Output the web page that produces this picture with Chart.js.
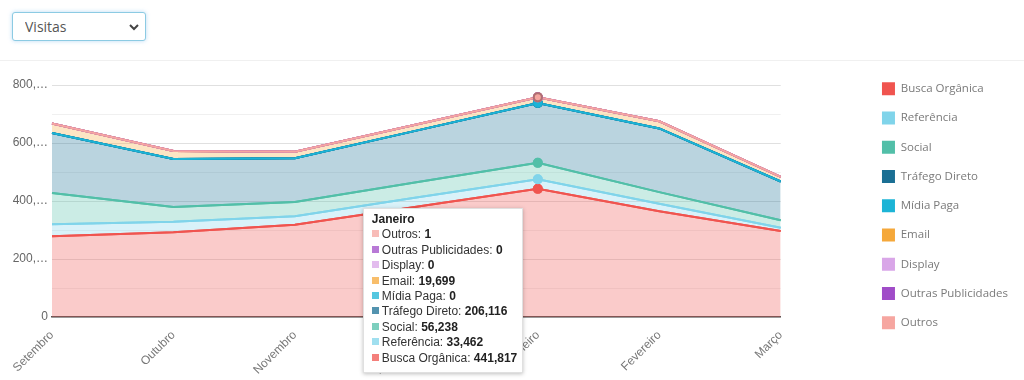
<!DOCTYPE html>
<html lang="pt-BR">
<head>
<meta charset="utf-8">
<title>Visitas por canal</title>
<script src="https://cdn.jsdelivr.net/npm/chart.js@4.4.1/dist/chart.umd.min.js"></script>
<style>
    body {
        margin: 0;
        background: #fff;
        width: 1024px;
        height: 380px;
        overflow: hidden;
        position: relative;
        font-family: 'Open Sans', sans-serif;
    }
    .filtro {
        position: absolute;
        left: 12px;
        top: 12px;
        width: 134px;
        height: 29px;
        box-sizing: border-box;
        border: 1px solid #8ccbe3;
        border-radius: 3px;
        box-shadow: 0 0 4px rgba(102, 175, 233, 0.45);
        padding: 0 0 0 12px;
        font: 14px 'Open Sans', sans-serif;
        color: #555;
        background: #fff url("data:image/svg+xml;utf8,<svg xmlns='http://www.w3.org/2000/svg' width='10' height='8'><path d='M1 2 L5 6 L9 2' stroke='%23444' stroke-width='2' fill='none'/></svg>") no-repeat right 6px center;
        -webkit-appearance: none;
        appearance: none;
    }
    .grafico {
        position: absolute;
        left: 0;
        top: 60px;
        width: 1024px;
        height: 320px;
        border-top: 1px solid #f0f0f0;
        box-sizing: border-box;
    }
    #chart-tooltip {
        position: absolute;
        background: #fff;
        border: 1px solid rgba(0, 0, 0, 0.12);
        box-shadow: 0 1px 4px rgba(0, 0, 0, 0.25);
        padding: 3px 5px 6px 8px;
        font: 12px 'Liberation Sans', Arial, sans-serif;
        color: #333;
        line-height: 15.4px;
        white-space: nowrap;
        pointer-events: none;
        opacity: 0;
    }
    #chart-tooltip .tt-title { font-weight: bold; color: #222; }
    #chart-tooltip .sw {
        display: inline-block;
        width: 7px;
        height: 7px;
        margin-right: 3px;
        vertical-align: 1px;
    }
    #chart-tooltip b { color: #222; }
</style>
</head>
<body>
<select class="filtro"><option>Visitas</option></select>
<div class="grafico">
    <canvas id="visitasChart"></canvas>
</div>
<div id="chart-tooltip"></div>

<script>
// Dados
const meses = ['Setembro', 'Outubro', 'Novembro', 'Dezembro', 'Janeiro', 'Fevereiro', 'Março'];
const buscaOrganica = [278340, 292150, 318420, 380260, 441817, 364510, 296180];
const referencia = [41200, 36480, 28910, 31540, 33462, 25870, 11240];
const social = [107650, 50320, 49180, 52610, 56238, 40150, 25930];
const trafegoDireto = [207430, 166210, 150870, 178340, 206116, 219780, 133960];
const midiaPaga = [0, 0, 0, 0, 0, 0, 0];
const email = [32860, 27140, 22350, 21080, 19699, 24630, 16120];
const display = [0, 0, 0, 0, 0, 0, 0];
const outrasPublicidades = [0, 0, 0, 0, 0, 0, 0];
const outros = [1, 2, 1, 1, 1, 1, 1];
const yTicks = [0, 200000, 400000, 600000, 800000];
const mesDestaque = 'Janeiro';

// Séries : nome, valores, cor
const series = [
    ['Busca Orgânica', buscaOrganica, '#f0544f'],
    ['Referência', referencia, '#80d4ea'],
    ['Social', social, '#52bfa8'],
    ['Tráfego Direto', trafegoDireto, '#1a6f94'],
    ['Mídia Paga', midiaPaga, '#1cb4d6'],
    ['Email', email, '#f5a83a'],
    ['Display', display, '#d9a6e8'],
    ['Outras Publicidades', outrasPublicidades, '#a04cc8'],
    ['Outros', outros, '#f6a6a0']
];

function hexToRgba(hex, a) {
    const n = parseInt(hex.slice(1), 16);
    return `rgba(${(n >> 16) & 255}, ${(n >> 8) & 255}, ${n & 255}, ${a})`;
}

const datasets = series.map(([label, data, cor], i) => ({
    label: label,
    data: data,
    borderColor: cor,
    backgroundColor: hexToRgba(cor, 0.3),
    borderWidth: 2,
    fill: i === 0 ? 'origin' : '-1',
    tension: 0,
    pointRadius: 0,
    pointHoverRadius: 4,
    pointHoverBorderWidth: 2,
    pointHoverBackgroundColor: cor,
    pointHoverBorderColor: i === series.length - 1 ? '#b07070' : hexToRgba(cor, 0.9)
}));

function formatarNumero(v) {
    return v.toLocaleString('en-US');
}

// Tooltip HTML (valores em negrito)
function tooltipExterno(context) {
    const { chart, tooltip } = context;
    const el = document.getElementById('chart-tooltip');
    if (tooltip.opacity === 0) {
        el.style.opacity = 0;
        return;
    }
    let html = `<div class="tt-title">${tooltip.title[0]}</div>`;
    tooltip.dataPoints.forEach(dp => {
        const ds = chart.data.datasets[dp.datasetIndex];
        html += `<div><span class="sw" style="background:${hexToRgba(ds.borderColor, 0.75)}"></span>${ds.label}: <b>${formatarNumero(dp.raw)}</b></div>`;
    });
    el.innerHTML = html;
    const box = chart.canvas.getBoundingClientRect();
    el.style.left = (box.left + tooltip.caretX - el.offsetWidth - 15) + 'px';
    el.style.top = (box.top + chart.chartArea.top + 123) + 'px';
    el.style.opacity = 1;
}

// Legenda com a cor cheia da série
function gerarLegenda(chart) {
    const items = Chart.defaults.plugins.legend.labels.generateLabels(chart);
    items.forEach(it => {
        const ds = chart.data.datasets[it.datasetIndex];
        it.fillStyle = ds.borderColor;
        it.strokeStyle = ds.borderColor;
        it.lineWidth = 0;
    });
    return items;
}

// Redesenha as linhas de baixo para cima (a série do topo fica por cima)
const linhasPorCima = {
    id: 'linhasPorCima',
    afterDatasetsDraw(chart) {
        const ctx = chart.ctx;
        const metas = chart.getSortedVisibleDatasetMetas();
        metas.forEach(meta => meta.dataset.draw(ctx, chart.chartArea));
        const ativos = chart.getActiveElements();
        metas.forEach(meta => {
            ativos.filter(a => a.datasetIndex === meta.index)
                .forEach(a => meta.data[a.index].draw(ctx, chart.chartArea));
        });
    }
};

const chart = new Chart(document.getElementById('visitasChart'), {
    type: 'line',
    data: {
        labels: meses,
        datasets: datasets
    },
    plugins: [linhasPorCima],
    options: {
        responsive: true,
        maintainAspectRatio: false,
        animation: false,
        interaction: { mode: 'index', intersect: false },
        layout: { padding: { top: 5, right: 6, left: 0, bottom: 0 } },
        plugins: {
            legend: {
                position: 'right',
                align: 'start',
                labels: {
                    boxWidth: 13,
                    boxHeight: 13,
                    padding: 16.25,
                    color: '#7a7a7a',
                    font: { family: 'Open Sans', size: 11.5 },
                    generateLabels: gerarLegenda
                }
            },
            tooltip: {
                enabled: false,
                mode: 'index',
                intersect: false,
                itemSort: (a, b) => b.datasetIndex - a.datasetIndex,
                external: tooltipExterno
            }
        },
        scales: {
            x: {
                grid: { display: false },
                border: { display: true, color: '#555', width: 1.5 },
                ticks: {
                    minRotation: 45,
                    maxRotation: 45,
                    color: '#777',
                    font: { family: 'Liberation Sans', size: 12 }
                },
                afterFit: (s) => { s.height = 63; }
            },
            y: {
                stacked: true,
                min: 0,
                max: 800000,
                border: { display: false },
                grid: {
                    drawTicks: false,
                    color: (ctx) => yTicks.includes(ctx.tick && ctx.tick.value) ? 'rgba(0,0,0,0.12)' : 'rgba(0,0,0,0.06)'
                },
                ticks: {
                    stepSize: 100000,
                    autoSkip: false,
                    padding: 4,
                    color: '#666',
                    font: { family: 'Liberation Sans', size: 12 },
                    callback: (v) => {
                        if (!yTicks.includes(v)) return '';
                        const s = formatarNumero(v);
                        return s.length > 4 ? s.slice(0, 4) + '…' : s;
                    }
                },
                afterFit: (s) => { s.width = 52; }
            },
            margemTopo: {
                type: 'linear',
                axis: 'x',
                position: 'top',
                grid: { display: false },
                border: { display: false },
                ticks: { display: false },
                afterFit: (s) => { s.height = 19; }
            },
            margemDireita: {
                type: 'linear',
                axis: 'y',
                position: 'right',
                grid: { display: false },
                border: { display: false },
                ticks: { display: false },
                afterFit: (s) => { s.width = 85; }
            }
        }
    }
});

// Destaque do mês (pontos + tooltip)
const idx = meses.indexOf(mesDestaque);
const ativos = datasets.map((d, i) => ({ datasetIndex: i, index: idx }));
chart.setActiveElements(ativos);
chart.tooltip.setActiveElements(ativos, { x: 0, y: 0 });
chart.update();
</script>
</body>
</html>
